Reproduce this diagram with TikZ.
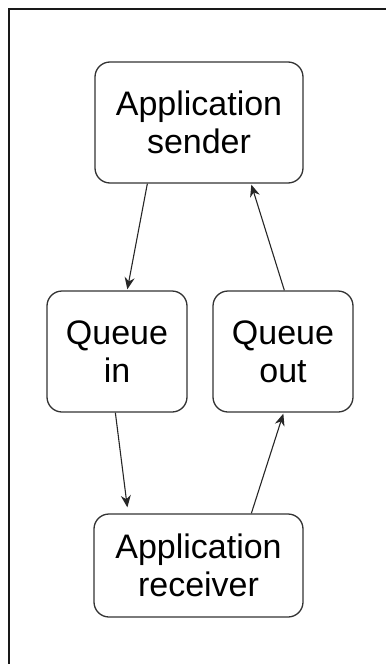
\documentclass[tikz,border=0pt]{standalone}
\usepackage{fontspec}
\setmainfont{Liberation Sans}
\usetikzlibrary{arrows.meta}
\begin{document}
\begin{tikzpicture}[x=1pt,y=-1pt,
  box/.style={draw=black!80,line width=1.3pt,rounded corners=15pt,inner sep=0pt,
    align=center,font=\fontsize{34}{38}\selectfont,text=black},
  conn/.style={draw=black!85,line width=1.1pt,-{Stealth[length=12pt,width=10pt]}}]
\useasboundingbox (0,0) rectangle (386,664);
\draw[line width=2pt,black!90] (8.5,664) -- (8.5,8.5) -- (386,8.5);
\node[box,minimum width=208pt,minimum height=121pt] (s) at (199,122.5) {Application\\sender};
\node[box,minimum width=140pt,minimum height=121pt] (qi) at (117,351.5) {Queue\\in};
\node[box,minimum width=140pt,minimum height=121pt] (qo) at (283,351.5) {Queue\\out};
\node[box,minimum width=209pt,minimum height=103pt] (r) at (198.5,565.5) {Application\\receiver};
\draw[conn] ([xshift=53pt]s.south west) -- ([xshift=81pt,yshift=1pt]qi.north west);
\draw[conn] ([xshift=72pt]qo.north west) -- ([xshift=157pt,yshift=-1pt]s.south west);
\draw[conn] ([xshift=69pt]qi.south west) -- ([xshift=34pt,yshift=6pt]r.north west);
\draw[conn] ([xshift=158pt]r.north west) -- ([xshift=71pt,yshift=-1pt]qo.south west);
\end{tikzpicture}
\end{document}
